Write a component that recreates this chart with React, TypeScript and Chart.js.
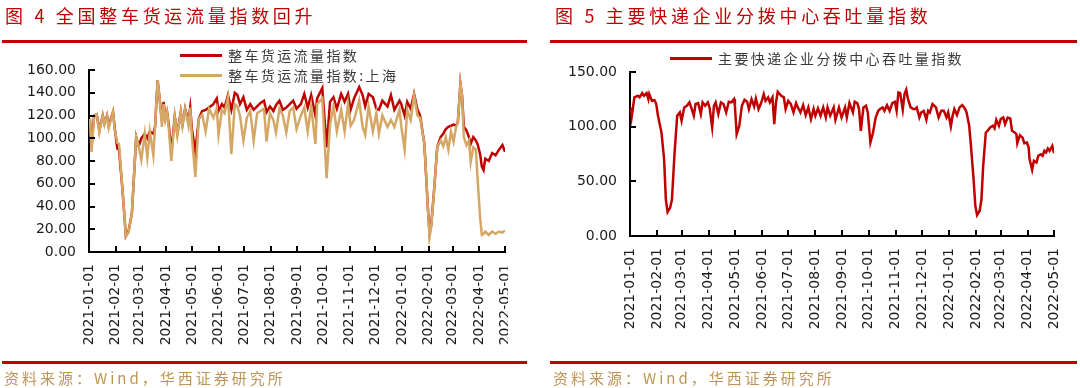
import React, { useEffect, useRef } from "react";
import { Chart, registerables } from "chart.js";

Chart.register(...registerables);

// ---------- data ----------
const monthStartDays = [0, 31, 59, 90, 120, 151, 181, 212, 243, 273, 304, 334, 365, 396, 424, 455, 485];
const monthLabels = [
  "2021-01-01", "2021-02-01", "2021-03-01", "2021-04-01", "2021-05-01", "2021-06-01",
  "2021-07-01", "2021-08-01", "2021-09-01", "2021-10-01", "2021-11-01", "2021-12-01",
  "2022-01-01", "2022-02-01", "2022-03-01", "2022-04-01", "2022-05-01",
];

const truckYTicks = [0, 20, 40, 60, 80, 100, 120, 140, 160];
const expressYTicks = [0, 50, 100, 150];

// days since 2021-01-01
const truckDays = [
  1, 3, 6, 9, 12, 16, 18, 21, 23, 28,
  30, 33, 35, 39, 43, 46, 50, 55, 58, 61,
  65, 68, 71, 75, 77, 80, 83, 85, 87, 89,
  91, 93, 96, 100, 103, 107, 109, 112, 116, 118,
  120, 124, 128, 132, 136, 140, 145, 149, 151, 155,
  158, 162, 166, 170, 173, 176, 180, 184, 188, 192,
  196, 200, 204, 207, 211, 215, 218, 222, 226, 230,
  234, 238, 242, 247, 251, 255, 259, 264, 266, 272,
  277, 281, 285, 289, 294, 298, 302, 305, 309, 315,
  319, 322, 326, 331, 335, 338, 342, 348, 352, 356,
  362, 364, 368, 371, 375, 379, 383, 386, 391, 395,
  397, 399, 402, 406, 410, 413, 416, 419, 422, 425,
  428, 430, 433, 435, 437, 440, 443, 445, 448, 451,
  453, 456, 458, 460, 462, 466, 470, 474, 478, 482,
  485,
];
const truckNational = [
  117, 94, 120, 121, 107, 120, 113, 120, 111, 123,
  109, 91, 90, 55, 14, 18, 34, 101, 93, 100,
  104, 100, 106, 104, 110, 151, 130, 115, 132, 118,
  123, 112, 88, 119, 104, 123, 112, 126, 115, 127,
  108, 88, 117, 124, 125, 127, 130, 135, 124, 130,
  127, 138, 125, 140, 138, 130, 136, 125, 130, 125,
  128, 131, 133, 123, 128, 124, 129, 133, 125, 127,
  130, 133, 126, 130, 139, 127, 138, 120, 135, 144,
  92, 132, 136, 126, 139, 132, 139, 125, 135, 145,
  138, 128, 139, 136, 126, 125, 133, 128, 138, 125,
  133, 130, 120, 132, 126, 139, 125, 120, 95, 40,
  17, 24, 51, 92, 101, 104, 108, 110, 111, 112,
  111, 114, 148, 137, 110, 107, 101, 95, 101, 98,
  95, 86, 75, 72, 82, 80, 87, 85, 90, 94,
  88,
];
const truckShanghai = [
  117, 88, 120, 121, 105, 120, 112, 120, 109, 123,
  108, 96, 95, 55, 14, 17, 34, 101, 93, 81,
  104, 83, 106, 85, 110, 151, 130, 110, 130, 116,
  123, 109, 80, 119, 102, 123, 111, 126, 111, 127,
  101, 66, 117, 121, 106, 126, 118, 126, 103, 125,
  122, 136, 86, 130, 128, 120, 98, 118, 124, 98,
  122, 124, 126, 97, 122, 116, 105, 126, 120, 105,
  124, 127, 108, 120, 127, 106, 128, 95, 130, 135,
  65, 112, 128, 106, 125, 106, 130, 111, 116, 133,
  110, 103, 128, 106, 122, 104, 120, 110, 116, 110,
  125, 111, 90, 125, 116, 138, 120, 118, 95, 40,
  13, 22, 51, 92, 98, 93, 101, 90, 106, 97,
  110, 114, 148, 137, 101, 94, 98, 79, 92, 90,
  65, 30, 15, 16, 18, 15, 18, 16, 18, 17,
  19,
];

const expressDays = [
  1, 2, 5, 9, 11, 14, 16, 19, 21, 22,
  25, 28, 30, 32, 36, 39, 41, 43, 46, 48,
  51, 54, 57, 59, 62, 65, 68, 70, 73, 75,
  78, 81, 83, 86, 89, 91, 94, 96, 98, 101,
  104, 107, 110, 113, 116, 119, 120, 122, 125, 128,
  131, 134, 136, 139, 142, 144, 147, 150, 153, 155,
  158, 160, 163, 165, 167, 169, 173, 176, 178, 181,
  184, 187, 190, 192, 195, 198, 201, 204, 207, 210,
  212, 215, 218, 221, 224, 226, 229, 233, 235, 239,
  242, 246, 248, 251, 255, 257, 260, 262, 264, 267,
  270, 272, 275, 278, 281, 284, 286, 289, 291, 294,
  297, 300, 303, 305, 307, 309, 312, 314, 316, 318,
  321, 324, 326, 328, 331, 333, 336, 339, 341, 343,
  346, 350, 353, 356, 359, 362, 364, 367, 369, 371,
  374, 377, 380, 383, 385, 388, 390, 393, 395, 397,
  400, 402, 404, 407, 409, 412, 415, 417, 419, 422,
  424, 427, 429, 432, 435, 437, 440, 442, 443, 446,
  449, 451, 454, 456, 457, 460, 462, 465, 467, 470,
  472, 474, 476, 478, 480, 483, 485,
];
const expressIndex = [
  117.5, 109.4, 126.8, 128.3, 126.8, 130.7, 128.3, 130.7, 125.2, 129.8,
  123.7, 124.3, 120.7, 110.0, 94.7, 70.3, 33.6, 22.0, 26.0, 33.6,
  76.4, 110.0, 113.0, 105.4, 117.6, 119.1, 122.2, 117.6, 110.0, 120.7,
  121.6, 111.5, 122.2, 119.1, 122.2, 117.6, 99.3, 119.1, 122.2, 111.5,
  122.2, 120.7, 113.0, 122.8, 122.2, 125.2, 119.1, 93.1, 100.8, 119.1,
  124.6, 122.8, 116.1, 125.2, 118.5, 125.8, 116.1, 121.6, 129.8, 123.7,
  126.8, 122.2, 126.8, 102.3, 122.2, 131.9, 128.3, 126.8, 116.1, 123.7,
  120.7, 113.0, 121.6, 117.6, 113.0, 119.7, 110.6, 117.6, 106.9, 116.1,
  110.0, 116.7, 110.0, 117.6, 108.4, 117.6, 110.0, 117.6, 106.3, 117.6,
  108.4, 117.6, 108.4, 121.6, 113.0, 122.8, 121.6, 116.1, 96.2, 117.6,
  119.1, 113.0, 85.5, 94.7, 108.4, 114.5, 116.1, 117.6, 114.5, 119.7,
  114.5, 121.6, 122.8, 114.5, 131.3, 130.7, 115.5, 129.8, 133.8, 125.2,
  117.6, 116.1, 116.1, 117.6, 108.4, 113.0, 114.5, 106.3, 114.5, 113.0,
  120.7, 117.6, 108.4, 114.5, 114.5, 108.4, 113.0, 100.2, 110.0, 116.1,
  110.6, 117.6, 119.7, 116.7, 113.0, 100.8, 82.4, 52.0, 27.7, 19.2,
  23.1, 33.6, 64.2, 94.7, 96.2, 99.3, 100.8, 98.5, 106.3, 100.8,
  106.9, 108.4, 102.3, 108.4, 107.5, 96.2, 94.7, 93.1, 84.9, 92.2,
  90.0, 84.9, 85.5, 80.9, 70.3, 60.5, 68.8, 67.2, 73.3, 74.8,
  73.3, 77.9, 76.4, 80.0, 77.9, 82.4, 75.8,
];

// ---------- styles ----------
const RED = "#C00000";
const TAN = "#D4A764";
const CJK = "'Noto Sans CJK SC', 'Noto Sans', sans-serif";
const TICK_FONT = "'DejaVu Sans', 'Liberation Sans', sans-serif";

const tickMarks = {
  id: "tickMarks",
  afterDatasetsDraw(chart: any) {
    const { ctx, chartArea, scales } = chart;
    ctx.save();
    ctx.strokeStyle = "#000";
    ctx.lineWidth = 2;
    ctx.beginPath();
    scales.x.ticks.forEach((t: any) => {
      const px = Math.round(scales.x.getPixelForValue(t.value));
      ctx.moveTo(px, chartArea.bottom);
      ctx.lineTo(px, chartArea.bottom - 6);
    });
    scales.y.ticks.forEach((t: any) => {
      const py = Math.round(scales.y.getPixelForValue(t.value));
      ctx.moveTo(chartArea.left, py);
      ctx.lineTo(chartArea.left + 6, py);
    });
    ctx.stroke();
    ctx.restore();
  },
};

type PanelProps = {
  left: number;
  width: number;
  datasets: any[];
  yTicks: number[];
  yWidth: number;
  top: number;
  right: number;
  xHeight: number;
};

function ChartPanel({ left, width, datasets, yTicks, yWidth, top, right, xHeight }: PanelProps) {
  const ref = useRef<HTMLCanvasElement | null>(null);
  useEffect(() => {
    if (!ref.current) return;
    const chart = new Chart(ref.current, {
      type: "line",
      data: { datasets },
      options: {
        responsive: false,
        animation: false,
        devicePixelRatio: 1,
        layout: { padding: { left: 0, top, right, bottom: 0 } },
        plugins: { legend: { display: false }, tooltip: { enabled: false } },
        elements: { point: { radius: 0 }, line: { tension: 0, borderWidth: 2.5 } },
        scales: {
          x: {
            type: "linear",
            min: monthStartDays[0],
            max: monthStartDays[monthStartDays.length - 1],
            afterBuildTicks: (s: any) => {
              s.ticks = monthStartDays.map((v) => ({ value: v }));
            },
            afterFit: (s: any) => {
              s.height = xHeight;
              s.paddingLeft = 0;
              s.paddingRight = 0;
            },
            grid: { display: false, drawTicks: false },
            border: { display: true, color: "#000", width: 2 },
            ticks: {
              autoSkip: false,
              maxRotation: 90,
              minRotation: 90,
              padding: 12,
              color: "#1a1a1a",
              font: { family: TICK_FONT, size: 14 },
              callback: (v: any) => monthLabels[monthStartDays.indexOf(Number(v))],
            },
          },
          y: {
            type: "linear",
            min: yTicks[0],
            max: yTicks[yTicks.length - 1],
            afterBuildTicks: (s: any) => {
              s.ticks = yTicks.map((v) => ({ value: v }));
            },
            afterFit: (s: any) => {
              s.width = yWidth;
              s.paddingTop = 0;
              s.paddingBottom = 0;
            },
            grid: { display: false, drawTicks: false },
            border: { display: true, color: "#000", width: 2 },
            ticks: {
              padding: 13,
              color: "#1a1a1a",
              font: { family: TICK_FONT, size: 14 },
              callback: (v: any) => Number(v).toFixed(2),
            },
          },
        },
      } as any,
      plugins: [tickMarks],
    });
    return () => chart.destroy();
  }, []);
  return (
    <canvas
      ref={ref}
      width={width}
      height={388}
      style={{ position: "absolute", left, top: 0, width, height: 388 }}
    />
  );
}

const toPoints = (days: number[], vals: number[]) => days.map((d, i) => ({ x: d, y: vals[i] }));

function Legend({ left, top, color, text }: { left: number; top: number; color: string; text: string }) {
  return (
    <div style={{ position: "absolute", left, top, height: 20, display: "flex", alignItems: "center", zIndex: 2 }}>
      <span style={{ display: "inline-block", width: 42, height: 3, background: color, marginRight: 6 }} />
      <span style={{ fontFamily: CJK, fontSize: 14, letterSpacing: 2.4, color: "#3a3a3a", whiteSpace: "nowrap" }}>{text}</span>
    </div>
  );
}

function Bar({ left, top, width, height }: { left: number; top: number; width: number; height: number }) {
  return <div style={{ position: "absolute", left, top, width, height, background: RED, zIndex: 2 }} />;
}

function Title({ left, text }: { left: number; text: string }) {
  return (
    <div
      style={{
        position: "absolute",
        left,
        top: 5,
        fontFamily: CJK,
        fontSize: 18,
        lineHeight: "20px",
        letterSpacing: 3.7,
        color: RED,
        whiteSpace: "pre",
        zIndex: 2,
      }}
    >
      {text}
    </div>
  );
}

function Source({ left }: { left: number }) {
  return (
    <div
      style={{
        position: "absolute",
        left,
        top: 369,
        fontFamily: CJK,
        fontSize: 15,
        lineHeight: "18px",
        letterSpacing: 3,
        color: "#BE9455",
        whiteSpace: "nowrap",
        zIndex: 2,
      }}
    >
      资料来源：Wind，华西证券研究所
    </div>
  );
}

export default function App() {
  const truckSets = [
    {
      label: "整车货运流量指数",
      data: toPoints(truckDays, truckNational),
      borderColor: RED,
      backgroundColor: RED,
      borderWidth: 2.5,
      order: 1,
    },
    {
      label: "整车货运流量指数:上海",
      data: toPoints(truckDays, truckShanghai),
      borderColor: TAN,
      backgroundColor: TAN,
      borderWidth: 2.5,
      order: 0,
    },
  ];
  const expressSets = [
    {
      label: "主要快递企业分拨中心吞吐量指数",
      data: toPoints(expressDays, expressIndex),
      borderColor: RED,
      backgroundColor: RED,
      borderWidth: 2.5,
    },
  ];

  return (
    <div style={{ position: "absolute", left: 0, top: 0, width: 1080, height: 388, background: "#fff", overflow: "hidden" }}>
      <Title left={5} text="图 4 全国整车货运流量指数回升" />
      <Title left={555} text="图 5 主要快递企业分拨中心吞吐量指数" />

      <Bar left={2} top={40} width={525} height={3} />
      <Bar left={550} top={40} width={527} height={3} />

      <ChartPanel left={0} width={508} datasets={truckSets} yTicks={truckYTicks} yWidth={89} top={70} right={3} xHeight={136} />
      <ChartPanel left={540} width={540} datasets={expressSets} yTicks={expressYTicks} yWidth={90} top={72} right={26} xHeight={152} />

      <Legend left={180} top={45} color={RED} text="整车货运流量指数" />
      <Legend left={180} top={65} color={TAN} text="整车货运流量指数:上海" />
      <Legend left={670} top={48} color={RED} text="主要快递企业分拨中心吞吐量指数" />

      <Bar left={2} top={361} width={525} height={3} />
      <Bar left={550} top={361} width={527} height={3} />

      <Source left={4} />
      <Source left={553} />
    </div>
  );
}
